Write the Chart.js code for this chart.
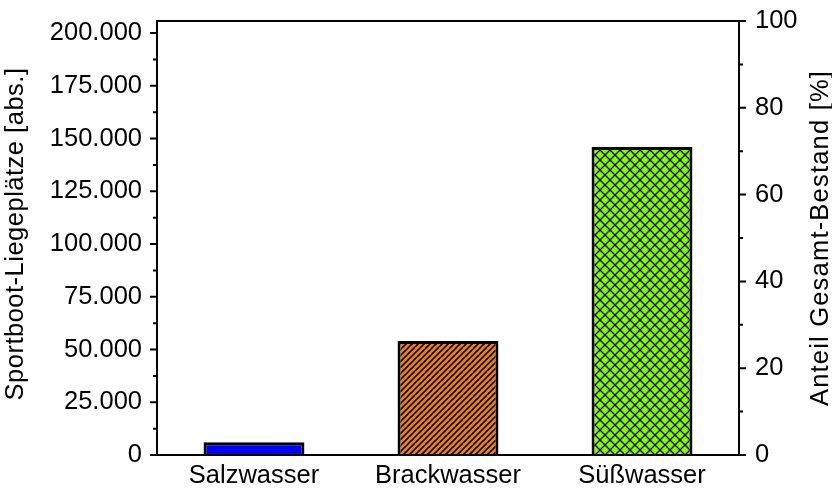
<!DOCTYPE html>
<html>
<head>
<meta charset="utf-8">
<script src="https://cdn.jsdelivr.net/npm/chart.js@4"></script>
<style>
  html, body { margin: 0; padding: 0; background: #fff; }
  #wrap { width: 832px; height: 488px; }
</style>
</head>
<body>
<div id="wrap"><canvas id="grafico"></canvas></div>
<script>
// Daten
const kategorien = ['Salzwasser', 'Brackwasser', 'Süßwasser'];
const liegeplaetze = [6000, 54000, 146000];
const linksTicks = [0, 25000, 50000, 75000, 100000, 125000, 150000, 175000, 200000];
const linksLabels = ['0', '25.000', '50.000', '75.000', '100.000', '125.000', '150.000', '175.000', '200.000'];
const rechtsTicks = [0, 20, 40, 60, 80, 100];
const rechtsLabels = ['0', '20', '40', '60', '80', '100'];

const schrift = { family: "'Liberation Sans', Arial, sans-serif", size: 25.5 };

// Muster für die Balken
function schraffur(farbe) {
  const c = document.createElement('canvas');
  c.width = 6; c.height = 6;
  const g = c.getContext('2d');
  g.fillStyle = farbe;
  g.fillRect(0, 0, 6, 6);
  g.strokeStyle = '#000';
  g.lineWidth = 1.6;
  g.beginPath();
  g.moveTo(-1, 7); g.lineTo(7, -1);
  g.moveTo(-1, 1); g.lineTo(1, -1);
  g.moveTo(5, 7); g.lineTo(7, 5);
  g.stroke();
  return g.createPattern(c, 'repeat');
}

function kreuzschraffur(farbe) {
  const c = document.createElement('canvas');
  c.width = 10; c.height = 10;
  const g = c.getContext('2d');
  g.fillStyle = farbe;
  g.fillRect(0, 0, 10, 10);
  g.strokeStyle = '#000';
  g.lineWidth = 1.3;
  g.beginPath();
  g.moveTo(0, 0); g.lineTo(10, 10);
  g.moveTo(10, 0); g.lineTo(0, 10);
  g.stroke();
  return g.createPattern(c, 'repeat');
}

const ctx = document.getElementById('grafico').getContext('2d');

// Rahmen, Ticks und Achsentitel
const rahmenPlugin = {
  id: 'rahmen',
  afterDraw(chart) {
    const { ctx, chartArea: a, scales } = chart;
    ctx.save();
    ctx.strokeStyle = '#000';
    ctx.lineWidth = 2;
    ctx.strokeRect(a.left, a.top, a.right - a.left, a.bottom - a.top);

    ctx.beginPath();
    linksTicks.forEach((v, i) => {
      const y = scales.y.getPixelForValue(v);
      ctx.moveTo(a.left - 7, y); ctx.lineTo(a.left, y);
      if (i < linksTicks.length - 1) {
        const ym = scales.y.getPixelForValue((v + linksTicks[i + 1]) / 2);
        ctx.moveTo(a.left - 4, ym); ctx.lineTo(a.left, ym);
      }
    });
    rechtsTicks.forEach((v, i) => {
      const y = scales.y2.getPixelForValue(v);
      ctx.moveTo(a.right, y); ctx.lineTo(a.right + 7, y);
      if (i < rechtsTicks.length - 1) {
        const ym = scales.y2.getPixelForValue((v + rechtsTicks[i + 1]) / 2);
        ctx.moveTo(a.right, ym); ctx.lineTo(a.right + 4, ym);
      }
    });
    ctx.stroke();

    ctx.fillStyle = '#000';
    ctx.font = schrift.size + 'px ' + schrift.family;
    ctx.textAlign = 'center';
    ctx.textBaseline = 'alphabetic';
    const mitte = (a.top + a.bottom) / 2;
    ctx.save();
    ctx.letterSpacing = '0.5px';
    ctx.translate(23, mitte - 4);
    ctx.rotate(-Math.PI / 2);
    ctx.fillText('Sportboot-Liegeplätze [abs.]', 0, 0);
    ctx.restore();
    ctx.save();
    ctx.letterSpacing = '1.2px';
    ctx.translate(828, mitte);
    ctx.rotate(-Math.PI / 2);
    ctx.fillText('Anteil Gesamt-Bestand [%]', 0, 0);
    ctx.restore();
    ctx.restore();
  }
};

function ohnePadding(s) {
  s.paddingTop = 0; s.paddingBottom = 0;
  s.paddingLeft = 0; s.paddingRight = 0;
}

new Chart(ctx, {
  type: 'bar',
  data: {
    labels: kategorien,
    datasets: [{
      data: liegeplaetze,
      backgroundColor: ['#0000ff', schraffur('#ff8000'), kreuzschraffur('#80ff00')],
      borderColor: '#000',
      borderWidth: 3,
      barPercentage: 0.52,
      categoryPercentage: 1,
      yAxisID: 'y',
    }],
  },
  options: {
    responsive: true,
    maintainAspectRatio: false,
    animation: false,
    events: [],
    layout: { padding: { top: 21, left: 0, right: 0, bottom: 0 } },
    plugins: {
      legend: { display: false },
      tooltip: { enabled: false },
    },
    scales: {
      x: {
        grid: { display: false, drawTicks: false },
        border: { display: false },
        ticks: { color: '#000', font: schrift, padding: 6, maxRotation: 0 },
        afterFit(s) { s.height = 33; ohnePadding(s); },
      },
      y: {
        position: 'left',
        min: 0,
        max: 205700, // 200.000 liegt etwas unter dem oberen Rand
        grid: { display: false, drawTicks: false },
        border: { display: false },
        afterBuildTicks(s) { s.ticks = linksTicks.map(v => ({ value: v })); },
        ticks: {
          color: '#000', font: schrift, padding: 15, autoSkip: false,
          callback: (v, i) => linksLabels[i],
        },
        afterFit(s) { s.width = 157; ohnePadding(s); },
      },
      y2: {
        position: 'right',
        min: 0,
        max: 100,
        grid: { display: false, drawTicks: false },
        border: { display: false },
        afterBuildTicks(s) { s.ticks = rechtsTicks.map(v => ({ value: v })); },
        ticks: {
          color: '#000', font: schrift, padding: 16, autoSkip: false,
          callback: (v, i) => rechtsLabels[i],
        },
        afterFit(s) { s.width = 93; ohnePadding(s); },
      },
    },
  },
  plugins: [rahmenPlugin],
});
</script>
</body>
</html>
